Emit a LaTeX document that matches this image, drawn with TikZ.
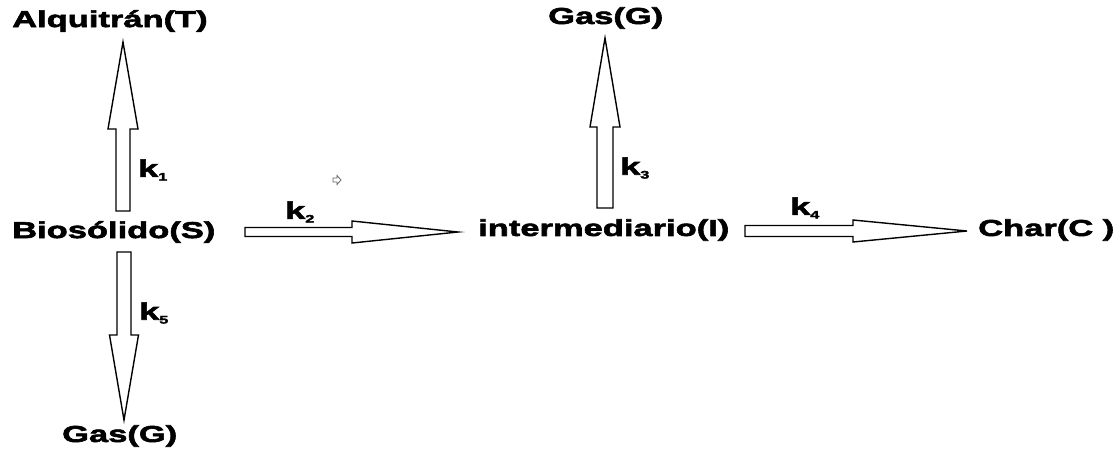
\documentclass[tikz,border=0pt]{standalone}
\usepackage{fontspec}
\usetikzlibrary{calc}
\newfontfamily\heavy[FakeStretch=1.5,BoldFeatures={FakeBold=2.6}]{Liberation Sans}

% hollow block arrow: from, to, half shaft width, half head width, head length
\newcommand{\blockarrow}[5]{%
  \draw[arrowline] let \p1=(#1), \p2=(#2),
      \n1={atan2(\y2-\y1,\x2-\x1)}, \n2={veclen(\x2-\x1,\y2-\y1)} in
    [shift={(\p1)}, rotate=\n1]
    (0,-#3) -- ({\n2-#5},-#3) -- ({\n2-#5},-#4) -- (\n2,0)
    -- ({\n2-#5},#4) -- ({\n2-#5},#3) -- (0,#3) -- cycle;}
\newcommand{\kk}[1]{k\raisebox{-0.3ex}{\fontsize{11}{11}\selectfont #1}}

\begin{document}
\begin{tikzpicture}[x=1pt,y=-1pt,
  species/.style={anchor=west,inner sep=0pt,font=\heavy\bfseries\fontsize{23}{23}\selectfont},
  rate/.style={anchor=west,inner sep=0pt,font=\heavy\bfseries\fontsize{24}{24}\selectfont},
  arrowline/.style={draw=black,line width=1.4pt,fill=white,line join=miter}]
\useasboundingbox (0,0) rectangle (1118,451);

% species
\node[species] (T)  at (12,21)   {Alquitrán(T)};
\node[species] (S)  at (12,232)  {Biosólido(S)};
\node[species] (G1) at (62,436)  {Gas(G)};
\node[species] (G2) at (548,18)  {Gas(G)};
\node[species] (I)  at (478,230) {intermediario(I)};
\node[species] (C)  at (978,230) {Char(C )};

% arrow end points
\coordinate (s1) at (123,211); \coordinate (e1) at (123,42);
\coordinate (s5) at (124,252); \coordinate (e5) at (124,420);
\coordinate (s2) at (245,232); \coordinate (e2) at (458,232);
\coordinate (s3) at (605,208); \coordinate (e3) at (605,38);
\coordinate (s4) at (745,231); \coordinate (e4) at (967,231);

\blockarrow{s1}{e1}{7}{15}{87}
\blockarrow{s5}{e5}{7}{14.5}{85}
\blockarrow{s2}{e2}{4.5}{11}{106}
\blockarrow{s3}{e3}{8}{15}{89}
\blockarrow{s4}{e4}{5.5}{11}{114}

% rate constants
\node[rate] (k1) at (138,170) {\kk{1}};
\node[rate] (k5) at (139,313) {\kk{5}};
\node[rate] (k2) at (285,212) {\kk{2}};
\node[rate] (k3) at (620,168) {\kk{3}};
\node[rate] (k4) at (790,208) {\kk{4}};

% small stray arrow mark
\coordinate (m1) at (333,180); \coordinate (m2) at (341,180);
\draw[black!60,line width=0.8pt,line join=miter] let \p1=(m1), \p2=(m2) in
  (\x1,{\y1-2}) -- ({\x1+4},{\y1-2}) -- ({\x1+4},{\y1-4.5}) -- (\x2,{\y1})
  -- ({\x1+4},{\y1+4.5}) -- ({\x1+4},{\y1+2}) -- (\x1,{\y1+2}) -- cycle;
\end{tikzpicture}
\end{document}
